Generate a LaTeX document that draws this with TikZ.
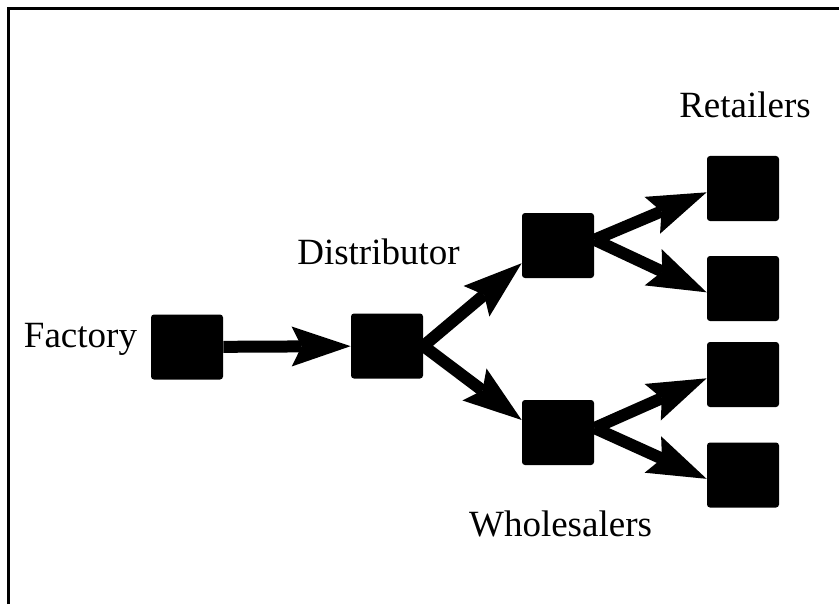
\documentclass[tikz,border=0pt]{standalone}
\usepackage{fontspec}
\setmainfont{Liberation Serif}
\usetikzlibrary{arrows.meta}

\begin{document}
\begin{tikzpicture}[x=0.5pt, y=-0.5pt,
  box/.style={fill=black, rounded corners=1.5pt, minimum width=36pt, minimum height=32.5pt, inner sep=0pt},
  lbl/.style={font=\fontsize{18.5}{22}\selectfont, anchor=base, inner sep=0pt},
  flow/.style={line width=6pt, -{Stealth[length=29.5pt, width=20pt, inset=5pt, line width=0pt]}}]
  \useasboundingbox (0,0) rectangle (839,604);
  \draw[line width=1.5pt] (8,604) -- (8,9) -- (839,9);

  \node[box] (fac) at (187, 347) {};
  \node[box] (dis) at (387, 346) {};
  \node[box] (whu) at (558, 245.5) {};
  \node[box] (whl) at (558, 432.5) {};
  \node[box] (ret1) at (743, 188.5) {};
  \node[box] (ret2) at (743, 288.5) {};
  \node[box] (ret3) at (743, 374.5) {};
  \node[box] (ret4) at (743, 475) {};

  \node[lbl] (tfac) at (80.5, 347) {Factory};
  \node[lbl] (tdis) at (378.5, 264) {Distributor};
  \node[lbl] (twho) at (560.5, 536) {Wholesalers};
  \node[lbl] (tret) at (745, 118) {Retailers};


  \draw[flow] (fac) -- (dis);
  \draw[flow] (dis.east) -- (whu.206);
  \draw[flow] (dis.east) -- (whl.161);
  \draw[flow] (whu.9) -- (ret1.186);
  \draw[flow] (whu.9) -- (ret2.186);
  \draw[flow] (whl.7) -- (ret3.186);
  \draw[flow] (whl.7) -- (ret4.186);
  
\end{tikzpicture}
\end{document}
